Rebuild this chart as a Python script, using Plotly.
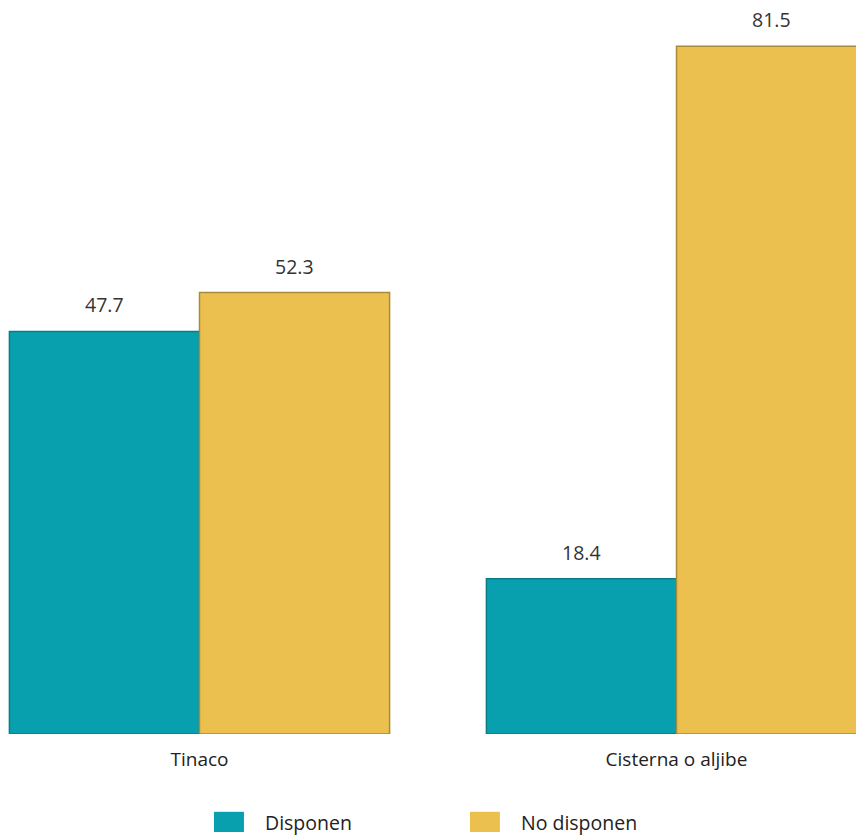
import plotly.graph_objects as go

categories = ["Tinaco", "Cisterna o aljibe"]
disponen = [47.7, 18.4]
no_disponen = [52.3, 81.5]
series_names = ["Disponen", "No disponen"]
colors = ["#08A0AE", "#EBC04E"]
edge_colors = ["#0A7C86", "#A88A3C"]

xpos = list(range(len(categories)))
fig = go.Figure()
for name, vals, c, ec in zip(series_names, [disponen, no_disponen], colors, edge_colors):
    fig.add_trace(go.Bar(
        x=xpos, y=vals, name=name,
        marker=dict(color=c, line=dict(color=ec, width=1.5)),
        showlegend=False, hoverinfo="skip",
    ))

bargap = 0.203
barw = (1 - bargap) / 2
for i, vals in enumerate([disponen, no_disponen]):
    off = -barw / 2 if i == 0 else barw / 2
    for xi, v in zip(xpos, vals):
        fig.add_annotation(x=xi + off, y=v, text=f"{v:.1f}", showarrow=False,
                           yanchor="bottom", yshift=11,
                           font=dict(family="Open Sans", size=19.5, color="#333333"))

# manual legend
leg_x = [0.25, 0.549]
for i, (name, c) in enumerate(zip(series_names, colors)):
    x0 = leg_x[i]
    fig.add_shape(type="rect", xref="paper", yref="paper",
                  x0=x0, x1=x0 + 0.035, y0=-0.1335, y1=-0.106,
                  fillcolor=c, line=dict(width=0))
    fig.add_annotation(xref="paper", yref="paper", x=x0 + 0.057, y=-0.121,
                       text=name, showarrow=False, xanchor="left", yanchor="middle",
                       font=dict(family="Open Sans", size=19.5, color="#222222"))

fig.update_layout(
    width=856, height=835,
    margin=dict(l=0, r=0, t=0, b=101),
    plot_bgcolor="white", paper_bgcolor="white",
    barmode="group", bargap=bargap, bargroupgap=0,
    xaxis=dict(range=[-199.5 / 477, (856 - 199.5) / 477], tickvals=xpos,
               ticktext=categories, showgrid=False, zeroline=False, showline=False,
               ticks="", ticklabelstandoff=12,
               tickfont=dict(family="Open Sans", size=19, color="#222222")),
    yaxis=dict(range=[0, 734 / 8.44], visible=False),
)
fig.write_html("out.html", config={"displayModeBar": False},
               post_script="document.body.style.margin='0';document.body.style.overflow='hidden';")
